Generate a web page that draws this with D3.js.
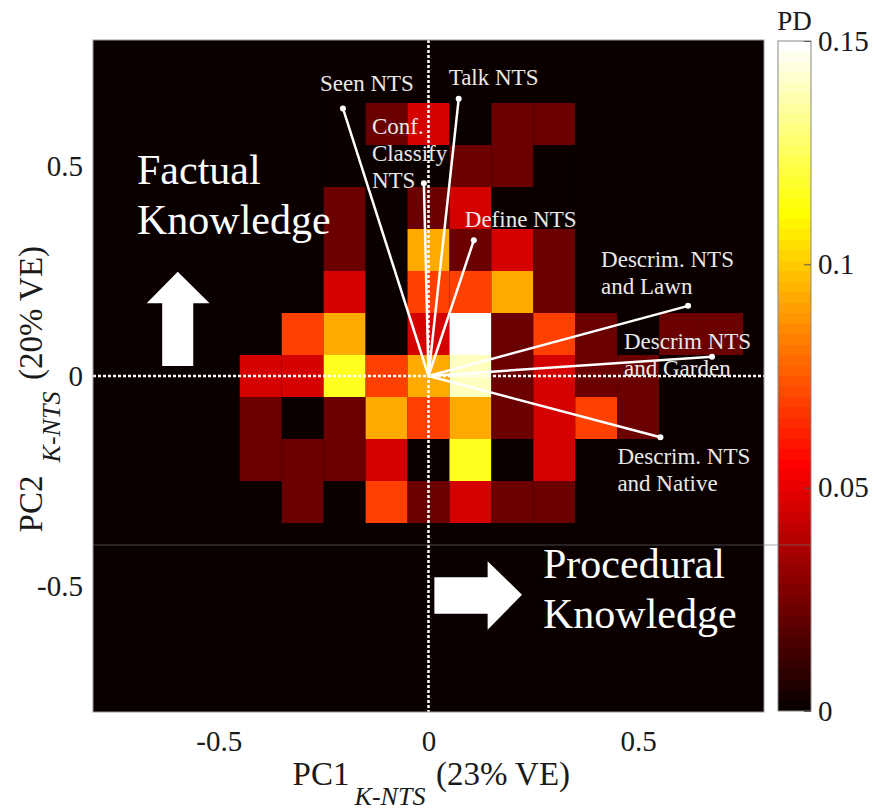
<!DOCTYPE html>
<html>
<head>
<meta charset="utf-8">
<script src="https://cdn.jsdelivr.net/npm/d3@7"></script>
<style>
body { margin: 0; background: #fff; }
svg { display: block; font-family: "Liberation Serif", "Times New Roman", serif; }
</style>
</head>
<body>
<svg id="chart"></svg>
<script>
// 2D histogram bins (centres), PC1 across, PC2 from top row down
const pc1Bins = [-0.4, -0.3, -0.2, -0.1, 0, 0.1, 0.2, 0.3, 0.4, 0.5, 0.6, 0.7];
const pc2Bins = [0.6, 0.5, 0.4, 0.3, 0.2, 0.1, 0, -0.1, -0.2, -0.3];

// PD per cell, one row per pc2 bin
const pdRows = [
    [0, 0, 0, 0.023, 0.046, 0, 0.023, 0.023, 0, 0, 0, 0],
    [0, 0, 0, 0, 0, 0.023, 0.023, 0, 0, 0, 0, 0],
    [0, 0, 0.023, 0, 0.023, 0.046, 0, 0, 0, 0, 0, 0],
    [0, 0, 0.023, 0, 0.093, 0.023, 0.046, 0.023, 0, 0, 0, 0],
    [0, 0, 0.046, 0, 0.070, 0.070, 0.093, 0.023, 0, 0, 0, 0],
    [0, 0.070, 0.093, 0, 0.046, 0.163, 0.023, 0.070, 0.023, 0, 0.023, 0.023],
    [0.046, 0.046, 0.116, 0.070, 0.093, 0.140, 0.023, 0.046, 0.023, 0.023, 0, 0],
    [0.023, 0, 0.023, 0.093, 0.070, 0.093, 0.023, 0.046, 0.070, 0.023, 0, 0],
    [0.023, 0.023, 0.023, 0.046, 0, 0.116, 0, 0.046, 0, 0, 0, 0],
    [0, 0.023, 0, 0.070, 0.023, 0.046, 0.023, 0.023, 0, 0, 0, 0]
];

// loading vectors
const loadingNames = [
    ["Seen NTS"],
    ["Talk NTS"],
    ["Conf.", "Classify", "NTS"],
    ["Define NTS"],
    ["Descrim. NTS", "and Lawn"],
    ["Descrim NTS", "and Garden"],
    ["Descrim. NTS", "and Native"]
];
const loadingPC1 = [-0.204, 0.072, -0.011, 0.108, 0.619, 0.676, 0.553];
const loadingPC2 = [0.637, 0.660, 0.459, 0.323, 0.167, 0.046, -0.146];

const pcTicks = [-0.5, 0, 0.5];
const pdTicks = [0, 0.05, 0.1, 0.15];
const pdMax = 0.15;

// label placement relative to vector tip (px)
const labelOffset = [[-23, -17], [-10, -14], [-52, -49], [-9, -13], [-87, -39], [-88, -8], [-43, 27]];

// matlab "hot", 64 levels
function hot(v) {
    let k = Math.floor(v / pdMax * 64);
    k = Math.max(0, Math.min(63, k));
    let r = k < 24 ? (k + 1) / 24 : 1;
    let g = k < 24 ? 0 : (k < 48 ? (k - 23) / 24 : 1);
    let b = k < 48 ? 0 : (k - 47) / 16;
    return d3.rgb(r * 255, g * 255, b * 255).toString();
}

// plain number labels, ascii minus like the original
let plainFmt = d => String(d);

let svg = d3.select("#chart").attr("width", 874).attr("height", 811);
svg.append("rect").attr("width", 874).attr("height", 811).attr("fill", "#fff");

let margin = {top: 40, right: 110, bottom: 99, left: 93},
    width = 874 - margin.left - margin.right,
    height = 811 - margin.top - margin.bottom;

let x = d3.scaleLinear().domain([-0.8, 0.8]).range([margin.left, margin.left + width]);
let y = d3.scaleLinear().domain([-0.8, 0.8]).range([margin.top + height, margin.top]);
let binW = 0.1;

svg.append("clipPath").attr("id", "plotclip")
    .append("rect")
    .attr("x", margin.left).attr("y", margin.top)
    .attr("width", width).attr("height", height);

let plot = svg.append("g").attr("clip-path", "url(#plotclip)");

plot.append("rect")
    .attr("x", margin.left).attr("y", margin.top)
    .attr("width", width).attr("height", height)
    .attr("fill", hot(0));

let cells = [];
pc2Bins.forEach((p2, r) => {
    pc1Bins.forEach((p1, c) => {
        cells.push({p1: p1, p2: p2, v: pdRows[r][c]});
    });
});

plot.selectAll("rect.cell")
    .data(cells)
    .enter().append("rect")
    .attr("class", "cell")
    .attr("x", d => x(d.p1 - binW / 2))
    .attr("y", d => y(d.p2 + binW / 2))
    .attr("width", d => x(d.p1 + binW / 2) - x(d.p1 - binW / 2))
    .attr("height", d => y(d.p2 - binW / 2) - y(d.p2 + binW / 2))
    .attr("fill", d => hot(d.v));

// dotted zero lines
plot.append("line")
    .attr("x1", x(0)).attr("x2", x(0))
    .attr("y1", y(0.8)).attr("y2", y(-0.8))
    .attr("stroke", "#fff").attr("stroke-width", 2.5)
    .attr("stroke-dasharray", "3,2");
plot.append("line")
    .attr("x1", x(-0.8)).attr("x2", x(0.8))
    .attr("y1", y(0)).attr("y2", y(0))
    .attr("stroke", "#fff").attr("stroke-width", 2.5)
    .attr("stroke-dasharray", "3,2");

// loading vectors
let loadings = loadingNames.map((n, i) => ({name: n, p1: loadingPC1[i], p2: loadingPC2[i], off: labelOffset[i]}));

plot.selectAll("line.vec")
    .data(loadings)
    .enter().append("line")
    .attr("class", "vec")
    .attr("x1", x(0)).attr("y1", y(0))
    .attr("x2", d => x(d.p1)).attr("y2", d => y(d.p2))
    .attr("stroke", "#fff").attr("stroke-width", 2.5);

plot.selectAll("circle.tip")
    .data(loadings)
    .enter().append("circle")
    .attr("class", "tip")
    .attr("cx", d => x(d.p1)).attr("cy", d => y(d.p2))
    .attr("r", 3).attr("fill", "#fff");

let labels = plot.selectAll("text.vlab")
    .data(loadings)
    .enter().append("text")
    .attr("class", "vlab")
    .attr("fill", "#e8e8e8")
    .attr("font-size", 23);
labels.selectAll("tspan")
    .data(d => d.name.map((t, k) => ({t: t, k: k, d: d})))
    .enter().append("tspan")
    .attr("x", e => x(e.d.p1) + e.d.off[0])
    .attr("y", e => y(e.d.p2) + e.d.off[1] + e.k * 27)
    .text(e => e.t);

// direction arrows
let upArrow = [[-0.598, 0.248], [-0.522, 0.173], [-0.561, 0.173], [-0.561, 0.024],
               [-0.635, 0.024], [-0.635, 0.173], [-0.672, 0.173]];
let rightArrow = [[0.223, -0.521], [0.141, -0.441], [0.141, -0.479], [0.014, -0.479],
                  [0.014, -0.566], [0.141, -0.566], [0.141, -0.604]];
[upArrow, rightArrow].forEach(a => {
    plot.append("path")
        .attr("d", d3.line().x(p => x(p[0])).y(p => y(p[1]))(a) + "Z")
        .attr("fill", "#fff");
});

// big annotations
plot.append("text").attr("x", 137).attr("y", 184).attr("fill", "#fff").attr("font-size", 42).text("Factual");
plot.append("text").attr("x", 137).attr("y", 234).attr("fill", "#fff").attr("font-size", 42).text("Knowledge");
plot.append("text").attr("x", 543).attr("y", 578).attr("fill", "#fff").attr("font-size", 42).text("Procedural");
plot.append("text").attr("x", 543).attr("y", 628).attr("fill", "#fff").attr("font-size", 42).text("Knowledge");

svg.append("rect")
    .attr("x", margin.left).attr("y", margin.top)
    .attr("width", width).attr("height", height)
    .attr("fill", "none").attr("stroke", "#999").attr("stroke-width", 1);

// axes
let xAxis = svg.append("g")
    .attr("transform", "translate(0," + (margin.top + height) + ")")
    .call(d3.axisBottom(x).tickValues(pcTicks).tickFormat(plainFmt).tickSize(0).tickPadding(18));
let yAxis = svg.append("g")
    .attr("transform", "translate(" + margin.left + ",0)")
    .call(d3.axisLeft(y).tickValues(pcTicks).tickFormat(plainFmt).tickSize(0).tickPadding(10));
[xAxis, yAxis].forEach(a => {
    a.select(".domain").remove();
    a.selectAll("text")
        .attr("font-family", "Liberation Serif, serif")
        .attr("font-size", 29)
        .attr("fill", "#1a1a1a");
});

// axis titles
let xt = svg.append("g").attr("fill", "#1a1a1a").attr("text-anchor", "middle");
xt.append("text").attr("x", 321).attr("y", 785).attr("font-size", 33).text("PC1");
xt.append("text").attr("x", 390).attr("y", 805).attr("font-size", 26).attr("font-style", "italic").text("K-NTS");
xt.append("text").attr("x", 503).attr("y", 785).attr("font-size", 33).text("(23% VE)");

let yt = svg.append("g").attr("fill", "#1a1a1a").attr("text-anchor", "middle");
yt.append("text").attr("transform", "translate(42,504) rotate(-90)").attr("font-size", 33).text("PC2");
yt.append("text").attr("transform", "translate(60,427) rotate(-90)").attr("font-size", 26).attr("font-style", "italic").text("K-NTS");
yt.append("text").attr("transform", "translate(42,313) rotate(-90)").attr("font-size", 33).text("(20% VE)");

// colorbar
let cbX = 778, cbW = 33;
let cy = d3.scaleLinear().domain([0, pdMax]).range([margin.top + height - 1, margin.top + 1]);
let grad = svg.append("defs").append("linearGradient")
    .attr("id", "hotgrad")
    .attr("x1", 0).attr("y1", 1).attr("x2", 0).attr("y2", 0);
d3.range(64).forEach(k => {
    let c = hot((k + 0.5) / 64 * pdMax);
    grad.append("stop").attr("offset", k / 64).attr("stop-color", c);
    grad.append("stop").attr("offset", (k + 1) / 64).attr("stop-color", c);
});
svg.append("rect")
    .attr("x", cbX).attr("y", cy(pdMax))
    .attr("width", cbW).attr("height", cy(0) - cy(pdMax))
    .attr("fill", "url(#hotgrad)")
    .attr("stroke", "#888").attr("stroke-width", 1);

let cAxis = svg.append("g")
    .attr("transform", "translate(" + (cbX + cbW) + ",0)")
    .call(d3.axisRight(cy).tickValues(pdTicks).tickFormat(plainFmt).tickSize(-7).tickPadding(7));
cAxis.select(".domain").remove();
cAxis.selectAll("line").attr("stroke", "#555");
cAxis.selectAll("text")
    .attr("font-family", "Liberation Serif, serif")
    .attr("font-size", 29)
    .attr("fill", "#1a1a1a");

svg.append("text")
    .attr("x", cbX + cbW / 2).attr("y", 30)
    .attr("text-anchor", "middle")
    .attr("font-size", 27).attr("fill", "#1a1a1a")
    .text("PD");

// faint scan seam across the figure
svg.append("line")
    .attr("x1", margin.left).attr("x2", cbX + cbW)
    .attr("y1", 545).attr("y2", 545)
    .attr("stroke", "#777").attr("stroke-opacity", 0.6).attr("stroke-width", 1);
</script>
</body>
</html>
